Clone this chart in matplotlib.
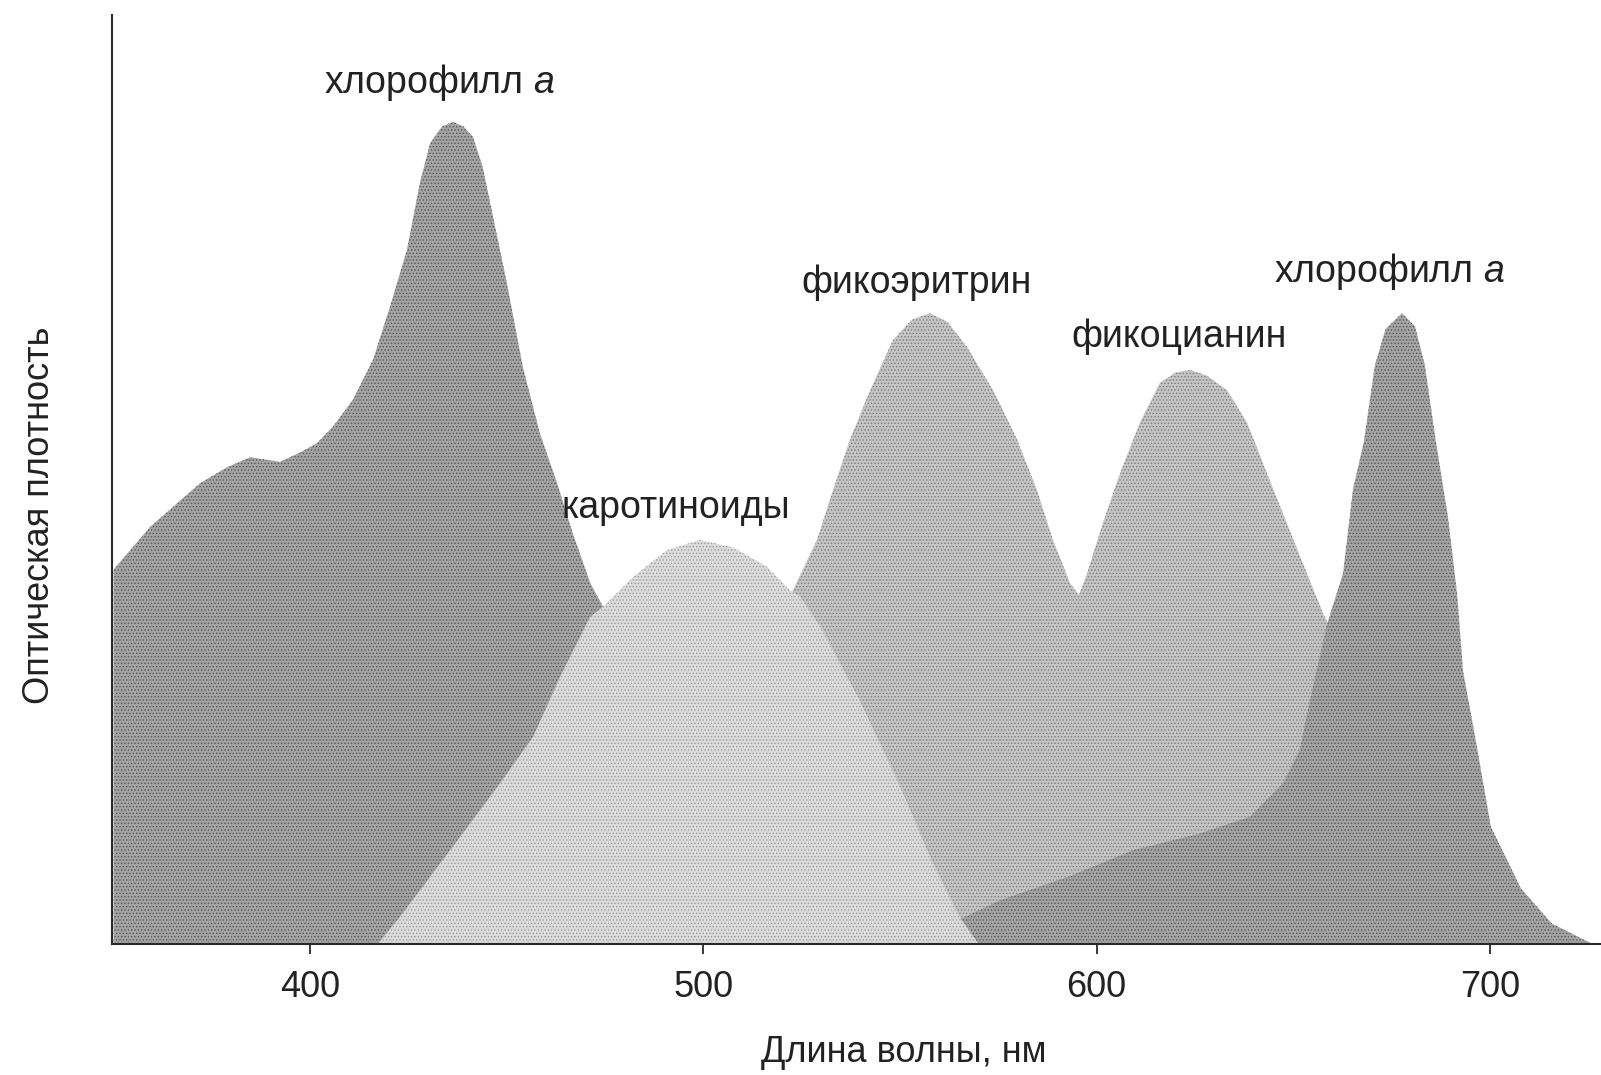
import matplotlib
matplotlib.use('Agg')
import matplotlib.pyplot as plt

plt.rcParams['font.family'] = ['Liberation Sans', 'DejaVu Sans']
plt.rcParams['mathtext.fontset'] = 'custom'
plt.rcParams['mathtext.it'] = 'Liberation Sans:italic'
plt.rcParams['mathtext.rm'] = 'Liberation Sans'
plt.rcParams['hatch.linewidth'] = 0.6

# ---- data (wavelength, nm ; relative optical density) ----
chl_nm = [350, 359.3, 372, 378.8, 384.7, 392.3, 397.4, 401.7, 405.8, 410.9, 416, 420.3,
          424.6, 427.9, 430.5, 433.5, 436.3, 439, 441.4, 443.9, 446.5, 450, 454.1, 458.4,
          462.8, 466.8, 471.2, 474.5, 480, 490, 500, 510, 520, 530, 545, 558, 575.4,
          592.5, 609.3, 626.3, 639, 647.4, 651.7, 654.3, 658.6, 662.7, 665.2, 668,
          670.8, 673.5, 677.7, 681, 683.5, 686.3, 689.4, 691.7, 693.2, 696.2, 700.3,
          707.9, 715.8, 726.2]
chl_od = [0.403, 0.449, 0.496, 0.513, 0.524, 0.519, 0.529, 0.539, 0.557, 0.586, 0.629, 0.686,
          0.747, 0.819, 0.862, 0.880, 0.885, 0.880, 0.869, 0.836, 0.783, 0.712, 0.621, 0.550,
          0.496, 0.442, 0.389, 0.363, 0.30, 0.20, 0.12, 0.07, 0.04, 0.02, 0.01, 0.012, 0.047,
          0.072, 0.101, 0.119, 0.137, 0.173, 0.209, 0.263, 0.344, 0.399, 0.489, 0.541,
          0.623, 0.662, 0.679, 0.665, 0.623, 0.541, 0.459, 0.377, 0.294, 0.225, 0.126,
          0.060, 0.022, 0.0]

car_nm = [417.2, 422.8, 435.6, 448.3, 456.7, 463.5, 471.2, 474.5, 482.1, 490.7, 499.1,
          507.5, 516.2, 522, 524.6, 530, 540, 550, 558, 565, 570]
car_od = [0.0, 0.029, 0.101, 0.173, 0.223, 0.287, 0.352, 0.363, 0.395, 0.424, 0.435,
          0.427, 0.406, 0.381, 0.374, 0.34, 0.26, 0.17, 0.09, 0.03, 0.0]

pe_nm = [485, 495, 505, 515, 522.8, 528.9, 533, 537.3, 542.4, 548.2, 553, 557.6, 562,
         567, 573.7, 579.8, 584.8, 588.9, 593.2, 595.8, 600, 610, 620, 630, 640]
pe_od = [0.0, 0.08, 0.18, 0.30, 0.381, 0.435, 0.489, 0.543, 0.596, 0.650, 0.672, 0.679,
         0.670, 0.643, 0.596, 0.543, 0.489, 0.435, 0.389, 0.374, 0.32, 0.22, 0.13, 0.06, 0.0]

pc_nm = [560, 570, 580, 590, 595, 597.6, 601.6, 606, 611, 616.1, 620, 623.8, 628, 633.2,
         638.3, 643.3, 648.4, 653.5, 657.6, 659.4, 665, 675, 685, 695]
pc_od = [0.0, 0.08, 0.2, 0.33, 0.370, 0.399, 0.453, 0.507, 0.561, 0.604, 0.615, 0.618,
         0.612, 0.596, 0.561, 0.507, 0.453, 0.399, 0.356, 0.341, 0.27, 0.15, 0.06, 0.0]

tick_vals = [400, 500, 600, 700]
tick_labels = ['400', '500', '600', '700']

labels = ['хлорофилл $a$', 'каротиноиды', 'фикоэритрин', 'фикоцианин', 'хлорофилл $a$']
label_nm = [432.8, 493.0, 554.1, 621.0, 674.4]
label_od = [0.916, 0.459, 0.701, 0.643, 0.713]

# ---- figure ----
W, H = 1601, 1075
fig = plt.figure(figsize=(W / 100, H / 100), dpi=100)
ax = fig.add_axes([112 / W, (H - 944) / H, 1 - 112 / W, 929 / H])

ax.fill_between(pe_nm, pe_od, 0, facecolor='#c4c4c4', edgecolor='#7a7a7a',
                hatch='.....', lw=0, zorder=1)
ax.fill_between(pc_nm, pc_od, 0, facecolor='#c4c4c4', edgecolor='#7a7a7a',
                hatch='.....', lw=0, zorder=1)
ax.fill_between(chl_nm, chl_od, 0, facecolor='#a4a4a4', edgecolor='#555555',
                hatch='.....', lw=0, zorder=2)
ax.fill_between(car_nm, car_od, 0, facecolor='#dcdcdc', edgecolor='#999999',
                hatch='.....', lw=0, zorder=3)

ax.set_xlim(349.6, 728.3)
ax.set_ylim(0, 1)

for s in ['top', 'right']:
    ax.spines[s].set_visible(False)
for s in ['left', 'bottom']:
    ax.spines[s].set_linewidth(1.5)
    ax.spines[s].set_color('#2a2a2a')
    ax.spines[s].set_zorder(5)

ax.set_yticks([])
ax.set_xticks(tick_vals)
ax.set_xticklabels(tick_labels)
ax.tick_params(axis='x', direction='out', length=7, width=1.3, color='#2a2a2a',
               labelsize=26, pad=12, labelcolor='#222222')

for t, x, y in zip(labels, label_nm, label_od):
    ax.text(x, y, t, ha='center', va='baseline', fontsize=27, color='#222222', zorder=6)

fig.text(904 / W, 1 - 1062 / H, 'Длина волны, нм', ha='center', va='baseline',
         fontsize=26, color='#222222')
fig.text(40 / W, 1 - 515 / H, 'Оптическая плотность', ha='center', va='center',
         rotation=90, fontsize=26, color='#222222')

fig.savefig('out.png', dpi=100)
